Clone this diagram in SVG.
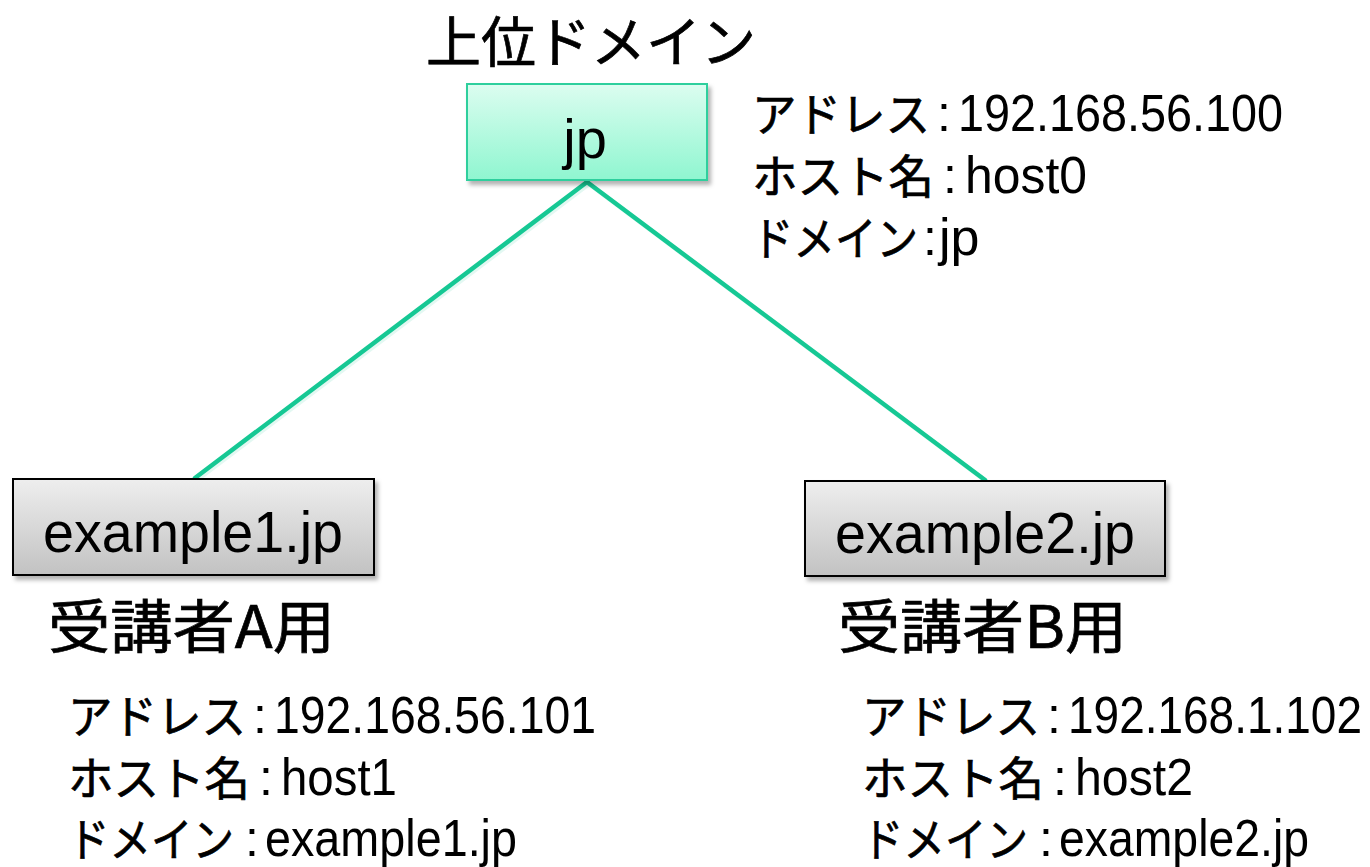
<svg xmlns="http://www.w3.org/2000/svg" width="1370" height="867" viewBox="0 0 1370 867">
  <defs>
    <linearGradient id="gradTop" x1="0" y1="0" x2="0" y2="1">
      <stop offset="0" stop-color="#dcfdf0"/>
      <stop offset="1" stop-color="#8ff6d0"/>
    </linearGradient>
    <linearGradient id="gradGray" x1="0" y1="0" x2="0" y2="1">
      <stop offset="0" stop-color="#eeeeee"/>
      <stop offset="1" stop-color="#c2c2c2"/>
    </linearGradient>
    <filter id="shadow" x="-10%" y="-10%" width="125%" height="135%">
      <feDropShadow dx="3" dy="4" stdDeviation="2" flood-color="#000" flood-opacity="0.3"/>
    </filter>
    <style>
      .jp { font-family: 'Noto Sans CJK JP', sans-serif; font-weight: 400; fill: #000; stroke: #000; stroke-width: 0.7px; }
      .lat { font-family: 'Liberation Sans', Arial, sans-serif; fill: #000; }
      .info { font-size: 46px; }
      .num { font-size: 52px; }
      .colon { font-family: 'Liberation Sans', Arial, sans-serif; font-size: 50px; text-anchor: middle; fill: #000; }
      .head { font-size: 55px; }
      .label { font-size: 58px; }
      .conn { stroke: #16c894; stroke-width: 4.5; fill: none; stroke-linecap: round; }
    </style>
  </defs>

  <rect width="1370" height="867" fill="#fff"/>

  <!-- connectors -->
  <g id="connectors">
    <line class="conn" x1="589" y1="184" x2="197" y2="480" stroke="#000" stroke-opacity="0.12"/>
    <line class="conn" x1="589" y1="184" x2="987" y2="482" stroke="#000" stroke-opacity="0.12"/>
    <line class="conn" x1="587" y1="182" x2="195" y2="478"/>
    <line class="conn" x1="587" y1="182" x2="985" y2="480"/>
  </g>

  <!-- parent domain -->
  <g id="node-jp">
    <text class="jp head" x="426" y="62">上位ドメイン</text>
    <rect x="467" y="84" width="240" height="96" fill="url(#gradTop)" stroke="#2fcf9d" stroke-width="2" filter="url(#shadow)"/>
    <text class="lat" x="585" y="158" font-size="56" text-anchor="middle">jp</text>
    <text class="jp info" x="752" y="131" textLength="178" lengthAdjust="spacingAndGlyphs">アドレス</text>
    <text class="colon" x="944" y="131">:</text>
    <text class="lat num" x="958" y="131" textLength="325" lengthAdjust="spacingAndGlyphs">192.168.56.100</text>
    <text class="jp info" x="752" y="193" textLength="182" lengthAdjust="spacingAndGlyphs">ホスト名</text>
    <text class="colon" x="950" y="193">:</text>
    <text class="lat num" x="965" y="193" textLength="122" lengthAdjust="spacingAndGlyphs">host0</text>
    <text class="jp info" x="752" y="255" textLength="166" lengthAdjust="spacingAndGlyphs">ドメイン</text>
    <text class="colon" x="930" y="255">:</text>
    <text class="lat num" x="939" y="255">jp</text>
  </g>

  <!-- trainee A -->
  <g id="node-example1">
    <rect x="13" y="479" width="361" height="96" fill="url(#gradGray)" stroke="#000" stroke-width="2" filter="url(#shadow)"/>
    <text class="lat" x="43" y="552" font-size="57" textLength="300" lengthAdjust="spacingAndGlyphs">example1.jp</text>
    <text class="jp label" x="48" y="648" textLength="287" lengthAdjust="spacingAndGlyphs">受講者A用</text>
    <text class="jp info" x="68" y="733" textLength="178" lengthAdjust="spacingAndGlyphs">アドレス</text>
    <text class="colon" x="260" y="733">:</text>
    <text class="lat num" x="274" y="733" textLength="322" lengthAdjust="spacingAndGlyphs">192.168.56.101</text>
    <text class="jp info" x="68" y="795" textLength="182" lengthAdjust="spacingAndGlyphs">ホスト名</text>
    <text class="colon" x="266" y="795">:</text>
    <text class="lat num" x="281" y="795" textLength="116" lengthAdjust="spacingAndGlyphs">host1</text>
    <text class="jp info" x="68" y="856" textLength="166" lengthAdjust="spacingAndGlyphs">ドメイン</text>
    <text class="colon" x="252" y="856">:</text>
    <text class="lat num" x="265" y="856" textLength="252" lengthAdjust="spacingAndGlyphs">example1.jp</text>
  </g>

  <!-- trainee B -->
  <g id="node-example2">
    <rect x="805" y="481" width="360" height="95" fill="url(#gradGray)" stroke="#000" stroke-width="2" filter="url(#shadow)"/>
    <text class="lat" x="835" y="553" font-size="57" textLength="300" lengthAdjust="spacingAndGlyphs">example2.jp</text>
    <text class="jp label" x="838" y="648" textLength="289" lengthAdjust="spacingAndGlyphs">受講者B用</text>
    <text class="jp info" x="862" y="733" textLength="178" lengthAdjust="spacingAndGlyphs">アドレス</text>
    <text class="colon" x="1054" y="733">:</text>
    <text class="lat num" x="1068" y="733" textLength="294" lengthAdjust="spacingAndGlyphs">192.168.1.102</text>
    <text class="jp info" x="862" y="795" textLength="182" lengthAdjust="spacingAndGlyphs">ホスト名</text>
    <text class="colon" x="1060" y="795">:</text>
    <text class="lat num" x="1075" y="795" textLength="118" lengthAdjust="spacingAndGlyphs">host2</text>
    <text class="jp info" x="862" y="856" textLength="166" lengthAdjust="spacingAndGlyphs">ドメイン</text>
    <text class="colon" x="1046" y="856">:</text>
    <text class="lat num" x="1059" y="856" textLength="250" lengthAdjust="spacingAndGlyphs">example2.jp</text>
  </g>
</svg>
